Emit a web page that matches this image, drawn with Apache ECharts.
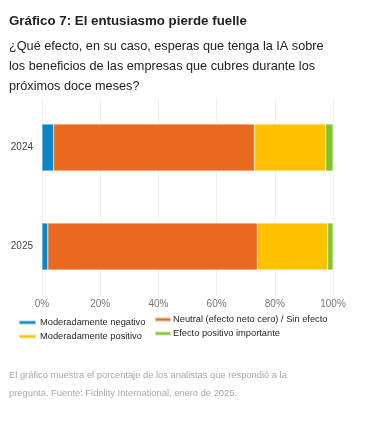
<!DOCTYPE html>
<html>
<head>
<meta charset="utf-8">
<script src="https://cdn.jsdelivr.net/npm/echarts@6/dist/echarts.min.js"></script>
<style>
html,body{margin:0;padding:0;background:#fff;}
#c{width:378px;height:427px;}
</style>
</head>
<body>
<div id="c"></div>
<script>
const categories = ['2024', '2025'];
const seriesNames = ['Moderadamente negativo', 'Neutral (efecto neto cero) / Sin efecto', 'Moderadamente positivo', 'Efecto positivo importante'];
const negativo = [4, 2];
const neutral = [69, 72];
const positivo = [24.5, 24.2];
const importante = [2.5, 1.8];
const xTicks = [0, 20, 40, 60, 80, 100];
const colors = ['#0b85c8', '#e96a1e', '#fec200', '#80c52a'];
const titleText = 'Gráfico 7: El entusiasmo pierde fuelle';
const subtitleText = '¿Qué efecto, en su caso, esperas que tenga la IA sobre\nlos beneficios de las empresas que cubres durante los\npróximos doce meses?';
const footText = 'El gráfico muestra el porcentaje de los analistas que respondió a la\npregunta. Fuente: Fidelity International, enero de 2025.';

const values = [negativo, neutral, positivo, importante];
const chart = echarts.init(document.getElementById('c'));
const font = 'Liberation Sans, Arial, sans-serif';
chart.setOption({
  animation: false,
  textStyle: { fontFamily: font },
  title: [
    { text: titleText, left: 4, top: 10, textStyle: { fontSize: 13.3, fontWeight: 'bold', color: '#222', fontFamily: font } },
    { text: subtitleText, left: 4, top: 31, textStyle: { fontSize: 12.7, fontWeight: 'normal', color: '#222', lineHeight: 20, fontFamily: font } },
    { text: footText, left: 4, top: 361, textStyle: { fontSize: 9.35, fontWeight: 'normal', color: '#a8a8a8', lineHeight: 18, fontFamily: font } }
  ],
  legend: [
    { data: [seriesNames[0], seriesNames[2]], left: 18, top: 318, padding: 0, orient: 'vertical', itemWidth: 17, itemHeight: 4, itemGap: 5, icon: 'rect',
      textStyle: { fontSize: 9.3, color: '#262626', padding: [0, 0, 0, -1] } },
    { data: [seriesNames[1], seriesNames[3]], left: 154, top: 315, padding: 0, orient: 'vertical', itemWidth: 16, itemHeight: 4, itemGap: 5, icon: 'rect',
      textStyle: { fontSize: 9.3, color: '#262626', padding: [0, 0, 0, -3] } }
  ],
  grid: { left: 42, right: 45, top: 98, bottom: 131, containLabel: false },
  xAxis: {
    type: 'value', min: 0, max: 100, interval: 20,
    axisLine: { show: false }, axisTick: { show: false },
    splitLine: { lineStyle: { color: '#f0f0f0', width: 1 } },
    axisLabel: { formatter: v => xTicks.includes(v) ? v + '%' : '', fontSize: 10, color: '#777', margin: 3 }
  },
  yAxis: {
    type: 'category', data: categories, inverse: true,
    axisLine: { show: false }, axisTick: { show: false },
    axisLabel: { fontSize: 10, color: '#444', margin: 9 }
  },
  series: seriesNames.map((n, i) => ({
    name: n, type: 'bar', stack: 'total', data: values[i], barWidth: 47,
    itemStyle: { color: colors[i], borderColor: 'rgba(255,255,255,0.6)', borderWidth: 0.5 }
  }))
});
</script>
</body>
</html>
